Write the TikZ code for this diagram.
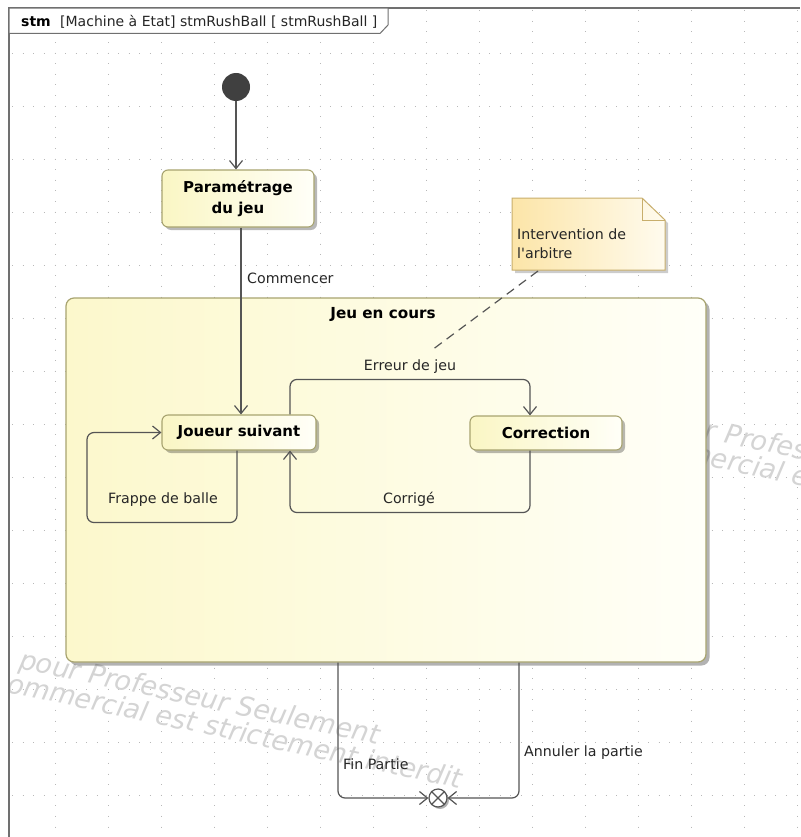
\documentclass[tikz,border=0pt]{standalone}
\usepackage{fontspec}
\setmainfont{DejaVu Sans}
\usetikzlibrary{arrows.meta,shadows}
\definecolor{ln}{HTML}{555555}
\definecolor{frm}{HTML}{707070}
\definecolor{stA}{HTML}{FAF6C4}
\definecolor{stB}{HTML}{FFFFF8}
\definecolor{stb}{HTML}{A8A470}
\definecolor{cmpA}{HTML}{FCF8CC}
\definecolor{cmpB}{HTML}{FFFFF8}
\definecolor{ntA}{HTML}{FCE5A8}
\definecolor{ntB}{HTML}{FFFBEE}
\definecolor{ntb}{HTML}{C8AE6C}
\definecolor{wmc}{HTML}{D4D4D4}
\definecolor{dotc}{HTML}{B8B8B8}
\tikzset{
  lbl/.style={font=\fontsize{14.2}{17}\selectfont, text=black!85, inner sep=0pt},
  stbox/.style={draw=stb, line width=1.1pt, rounded corners=6pt, left color=stA, right color=stB,
    font=\bfseries\fontsize{15}{21}\selectfont, align=center, inner sep=0pt,
    drop shadow={shadow xshift=3pt, shadow yshift=-3pt, fill=black, opacity=0.28}},
  tr/.style={draw=ln, line width=1.2pt, rounded corners=7pt, -{Straight Barb[length=8pt,width=13pt]}},
  wm/.style={font=\itshape\fontsize{27}{30}\selectfont, text=wmc, inner sep=0pt, anchor=base west, rotate=-12},
  vdots/.style={draw=dotc, line width=0.95pt, dash pattern=on 0.95pt off 9.65pt},
  frame/.style={draw=frm, line width=1.3pt}
}
\begin{document}
\begin{tikzpicture}[x=1pt,y=-1pt]
\useasboundingbox (0,0) rectangle (800,837);
\clip (0,0) rectangle (800,837);
\fill[white] (0,0) rectangle (800,837);
% grid
\foreach \k in {0,...,14}{
  \draw[vdots] (55+53*\k, 10.3) -- (55+53*\k, 837);
  \draw[vdots] (12.1, 53+53*\k) -- (800, 53+53*\k);
}
% watermark
\node[wm] (wm1) at (18,668) {pour Professeur Seulement};
\node[wm] (wm2) at (6,692) {ommercial est strictement interdit};
\node[wm] (wm3) at (654,428) {pour Professeur Seulement};
\node[wm] (wm4) at (642,452) {ommercial est strictement interdit};
% frame
\draw[frame] (9,837) -- (9,8) -- (800,8);
\fill[white] (9.7,8.7) -- (388,8.7) -- (388,25) -- (380,33.5) -- (9.7,33.5) -- cycle;
\draw[frame, line width=1pt] (388,8) -- (388,25) -- (380,33.5) -- (9,33.5);
\node[font=\bfseries\fontsize{14}{16}\selectfont, anchor=base west, inner sep=0pt] (hstm) at (21,27) {stm};
\node[font=\fontsize{14}{16}\selectfont, anchor=base west, inner sep=0pt, text=black!85] (htitle) at (60,27) {[Machine à Etat] stmRushBall [ stmRushBall ]};
% composite state
\node[draw=stb, line width=1.2pt, rounded corners=8pt, left color=cmpA, right color=cmpB,
  minimum width=640pt, minimum height=364pt, inner sep=0pt,
  drop shadow={shadow xshift=3.5pt, shadow yshift=-3.5pt, fill=black, opacity=0.3}] (jeu) at (386,480) {};
\node[font=\bfseries\fontsize{15.2}{18}\selectfont, inner sep=0pt] (jeut) at (383,314) {Jeu en cours};
% note
\fill[black, opacity=0.2] (515,201) -- (645,201) -- (668,223) -- (668,273) -- (515,273) -- cycle;
\draw[draw=ntb, line width=1pt, left color=ntA, right color=ntB] (512,198) -- (642,198) -- (665,220) -- (665,270) -- (512,270) -- cycle;
\draw[draw=ntb, line width=1pt] (642,198) -- (642,220) -- (665,220);
\node[lbl, anchor=north west, align=left, font=\fontsize{14.2}{18.5}\selectfont] (note) at (517,229) {Intervention de\\l\textquotesingle arbitre};
\coordinate (noteA) at (538,271);
\coordinate (noteB) at (432,350);
\draw[draw=ln, line width=1.2pt, dash pattern=on 9pt off 6pt] (noteA) -- (noteB);
% states
\node[circle, fill=black!75, minimum size=28pt, inner sep=0pt] (init) at (236,87) {};
\node[stbox, minimum width=152pt, minimum height=57pt] (param) at (238,198.5) {Paramétrage\\du jeu};
\node[stbox, minimum width=154pt, minimum height=35pt] (js) at (239,432.5) {Joueur suivant};
\node[stbox, minimum width=152pt, minimum height=34pt] (corr) at (546,433) {Correction};
\node[circle, draw=ln, line width=1.2pt, fill=white, minimum size=18pt, inner sep=0pt,
  drop shadow={shadow xshift=2pt, shadow yshift=-2pt, fill=black, opacity=0.3}] (fin) at (438,798) {};
\draw[ln, line width=1.2pt] (fin.north west) -- (fin.south east) (fin.north east) -- (fin.south west);
% transitions
\draw[tr] (init) -- (init |- param.north);
\draw[tr] ([xshift=3pt]param.south) -- ([xshift=2pt]js.north);
\draw[tr] ([xshift=51pt]js.north) -- ++(0,-35) -| ([xshift=-16pt]corr.north);
\draw[tr] ([xshift=-16pt]corr.south) -- ++(0,62) -| ([xshift=51pt]js.south);
\draw[tr] ([xshift=-2pt]js.south) -- ++(0,72) -- ++(-150,0) |- (js.west);
\draw[tr] ([xshift=-48pt]jeu.south) |- (fin.west);
\draw[tr] ([xshift=133pt]jeu.south) |- (fin.east);
% labels
\node[lbl, anchor=west] (lcomm) at (247,278) {Commencer};
\node[lbl] (lerr) at (410,367) {Erreur de jeu};
\node[lbl] (lcorr) at (409,499) {Corrigé};
\node[lbl, anchor=west] (lfrap) at (108,500) {Frappe de balle};
\node[lbl, anchor=west] (lfin) at (343,764) {Fin Partie};
\node[lbl, anchor=west] (lann) at (524,753) {Annuler la partie};
\end{tikzpicture}
\end{document}
